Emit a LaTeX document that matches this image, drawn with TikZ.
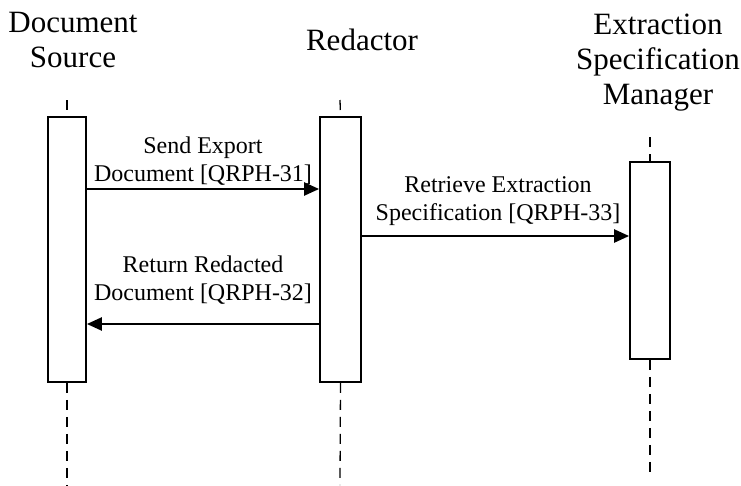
\documentclass[tikz,border=0pt]{standalone}
\usepackage{fontspec}
\setmainfont{Liberation Serif}
\usetikzlibrary{arrows.meta}
\begin{document}
\begin{tikzpicture}[x=1pt,y=-1pt,
  actor/.style={font=\fontsize{31}{35}\selectfont, align=center, inner sep=0pt},
  msglabel/.style={font=\fontsize{24}{28}\selectfont, align=center, inner sep=0pt},
  actbox/.style={draw, line width=1.8pt, fill=white, minimum width=#1, inner sep=0pt},
  life/.style={line width=1.3pt, dash pattern=on 10pt off 7pt},
  msg/.style={line width=2.4pt, -{Triangle[length=15pt,width=13pt]}}]
\useasboundingbox (0,0) rectangle (741,485);
% actors
\node[actor] (t1) at (73,40) {Document\\Source};
\node[actor] (t2) at (362,40) {Redactor};
\node[actor] (t3) at (658,63) {Extraction\\Specification\\Manager};
% lifeline end points
\coordinate (l1top) at (67,100);
\coordinate (l1bot) at (67,485);
\coordinate (l2top) at (340,100);
\coordinate (l2bot) at (340,485);
\coordinate (l3top) at (650,137);
\coordinate (l3bot) at (650,476);
% activation boxes
\node[actbox=38pt, minimum height=265pt] (a1) at (67,249.5) {};
\node[actbox=41pt, minimum height=265pt] (a2) at (340.5,249.5) {};
\node[actbox=40pt, minimum height=197pt] (a3) at (650,260.5) {};
% lifelines
\draw[life] (l1top) -- (a1.north);
\draw[life] (a1.south) -- (l1bot);
\draw[life] (l2top) -- (a2.north);
\draw[life] (a2.south) -- (l2bot);
\draw[life] (l3top) -- (a3.north);
\draw[life] (a3.south) -- (l3bot);
% messages
\coordinate (m1) at (0,189);
\coordinate (m2) at (0,324);
\coordinate (m3) at (0,236);
\draw[msg] (a1.east |- m1) -- (a2.west |- m1);
\draw[msg] (a2.west |- m2) -- (a1.east |- m2);
\draw[msg] (a2.east |- m3) -- (a3.west |- m3);
\node[msglabel] (lb1) at (203,161) {Send Export\\Document [QRPH-31]};
\node[msglabel] (lb2) at (203,280) {Return Redacted\\Document [QRPH-32]};
\node[msglabel] (lb3) at (498,201) {Retrieve Extraction\\Specification [QRPH-33]};
\end{tikzpicture}
\end{document}
